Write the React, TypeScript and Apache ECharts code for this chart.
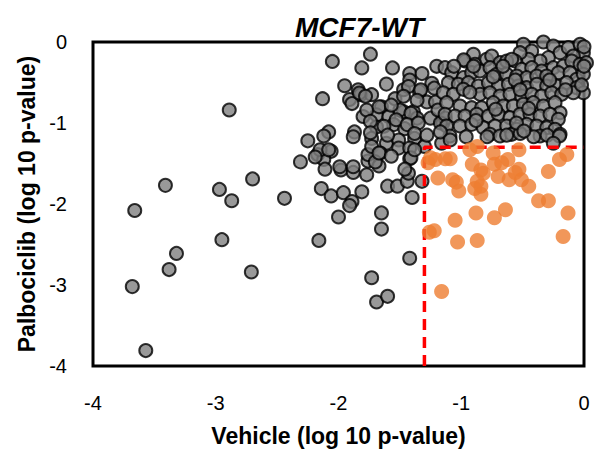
import React, { useEffect, useRef } from "react";
import * as echarts from "echarts";

const xTicks = [-4, -3, -2, -1, 0];
const yTicks = [0, -1, -2, -3, -4];
const threshold = -1.3;

// Gray points: [vehicle log10 p, palbociclib log10 p]
const grayPoints: number[][] = [
  // sparse left
  [-3.57, -3.81], [-3.68, -3.02], [-3.66, -2.08], [-3.38, -2.81], [-3.32, -2.61], [-3.41, -1.77],
  [-2.97, -1.82], [-2.95, -2.44], [-2.87, -1.96], [-2.89, -0.84], [-2.70, -1.69], [-2.71, -2.84],
  [-2.44, -1.93], [-2.31, -1.48], [-2.25, -1.22], [-2.16, -2.45], [-2.14, -1.81], [-2.06, -1.90],
  [-2.00, -2.16], [-1.96, -1.86], [-1.89, -1.97], [-1.91, -2.02], [-1.81, -1.85], [-2.05, -0.24],
  [-2.13, -0.70], [-2.08, -1.11], [-2.12, -1.16], [-2.06, -1.35], [-2.17, -1.39], [-2.12, -1.45],
  [-2.11, -1.57], [-1.98, -1.58], [-1.88, -1.61], [-1.77, -1.64], [-1.65, -2.11], [-1.65, -2.31],
  [-1.42, -2.67], [-1.73, -2.91], [-1.69, -3.21], [-1.60, -3.14], [-1.60, -1.78], [-1.52, -1.78],
  [-1.44, -1.72], [-1.43, -1.62], [-1.32, -1.72], [-1.40, -1.92], [-1.76, -1.47], [-1.76, -1.39],
  [-1.67, -1.53],
  // mid cluster
  [-1.74, -0.15], [-1.81, -0.32], [-1.56, -0.32], [-1.95, -0.54], [-1.61, -0.52], [-1.84, -0.59],
  [-1.82, -0.65], [-1.91, -0.71], [-1.89, -0.76], [-1.73, -0.65], [-1.65, -0.80], [-1.54, -0.70],
  [-1.47, -0.59], [-1.42, -0.39], [-1.32, -0.39], [-1.42, -0.47], [-1.20, -0.30], [-1.34, -0.61],
  [-1.24, -0.51], [-1.39, -0.86], [-1.47, -0.86], [-1.28, -0.74], [-1.21, -0.74], [-1.80, -0.92],
  [-1.69, -0.90], [-1.59, -0.92], [-1.69, -1.05], [-1.55, -1.02], [-1.46, -1.07], [-1.36, -0.94],
  [-1.25, -0.94], [-1.15, -1.00], [-1.87, -1.11], [-1.88, -1.17], [-1.73, -1.19], [-1.61, -1.25],
  [-1.73, -1.29], [-1.51, -1.21], [-1.51, -1.31], [-1.38, -1.19], [-1.42, -1.31], [-1.30, -1.29],
  [-2.15, -1.33], [-2.08, -1.33], [-2.19, -1.42], [-1.66, -1.37], [-1.70, -1.48], [-1.42, -1.44],
  [-1.99, -1.54], [-1.88, -1.54], [-1.41, -1.43], [-1.46, -1.57], [-1.38, -1.33], [-1.16, -1.25],
  [-1.43, -0.55], [-1.33, -0.59], [-1.22, -0.57], [-1.47, -0.67], [-1.36, -0.72],
  [-1.50, -0.84], [-1.41, -0.88], [-1.19, -0.84], [-1.53, -0.96],
  [-1.44, -1.02], [-1.35, -1.00], [-1.77, -0.84], [-1.67, -0.80], [-1.57, -0.78], [-1.74, -0.98],
  [-1.63, -1.04], [-1.74, -1.12], [-1.60, -1.15], [-1.67, -1.37], [-1.57, -1.41], [-1.83, -0.63],
  [-1.78, -0.67], [-1.13, -0.94], [-1.17, -1.00],
  // dense upper right
  [-0.494, -0.029], [-0.426, -0.111], [-0.331, 0.0], [-0.250, -0.049], [-0.195, -0.132],
  [-0.128, -0.070], [-0.032, -0.029], [-0.005, -0.132], [-0.087, -0.173], [-0.290, -0.193],
  [-0.358, -0.235], [-0.453, -0.214], [-0.521, -0.132], [-0.562, -0.235],
  [-0.969, -0.235], [-0.901, -0.152], [-0.888, -0.276], [-0.793, -0.214], [-0.752, -0.173],
  [-0.684, -0.255], [-0.630, -0.235], [-0.589, -0.214], [-0.508, -0.338], [-0.426, -0.317],
  [-0.345, -0.358], [-0.250, -0.317], [-0.168, -0.296], [-0.100, -0.235], [-0.032, -0.276],
  [0.02, -0.255],
  [-1.132, -0.317], [-1.078, -0.379], [-0.983, -0.440], [-0.915, -0.379], [-0.847, -0.358],
  [-0.766, -0.317], [-0.711, -0.399], [-0.630, -0.399], [-0.548, -0.420], [-0.467, -0.440],
  [-0.385, -0.420], [-0.304, -0.420], [-0.209, -0.379], [-0.114, -0.379], [-0.060, -0.461],
  [-0.005, -0.399],
  [-1.105, -0.502], [-1.024, -0.523], [-0.942, -0.502], [-0.861, -0.543], [-0.779, -0.502],
  [-0.698, -0.543], [-0.616, -0.523], [-0.535, -0.543], [-0.467, -0.564], [-0.385, -0.523],
  [-0.304, -0.543], [-0.223, -0.543], [-0.141, -0.502], [-0.060, -0.564], [-0.005, -0.626],
  [-1.146, -0.626], [-1.064, -0.646], [-0.983, -0.584], [-0.847, -0.646], [-0.766, -0.626],
  [-0.684, -0.667], [-0.603, -0.646], [-0.508, -0.667], [-0.426, -0.646], [-0.345, -0.667],
  [-0.263, -0.626], [-0.182, -0.646], [-0.087, -0.626],
  [-1.119, -0.749], [-1.010, -0.790], [-0.915, -0.811], [-0.834, -0.811], [-0.739, -0.749],
  [-0.657, -0.790], [-0.576, -0.790], [-0.494, -0.770], [-0.413, -0.749], [-0.331, -0.790],
  [-0.236, -0.749], [-0.195, -0.873],
  [-1.132, -0.893], [-1.051, -0.914], [-0.969, -0.914], [-0.874, -0.893], [-0.779, -0.914],
  [-0.698, -0.893], [-0.603, -0.934], [-0.521, -0.893], [-0.440, -0.893], [-0.358, -0.914],
  [-0.277, -0.893], [-0.209, -0.955],
  [-1.119, -1.037], [-1.010, -1.037], [-0.915, -1.017], [-0.820, -1.058], [-0.725, -1.037],
  [-0.630, -1.037], [-0.548, -1.078], [-0.467, -1.017], [-0.385, -1.037], [-0.304, -1.058],
  [-0.236, -1.078],
  [-1.092, -1.161], [-0.766, -1.140], [-0.684, -1.161], [-0.589, -1.140], [-0.358, -1.161],
  [-0.195, -1.140],
  [-1.38, -1.13], [-1.28, -1.15], [-1.17, -1.11], [-1.09, -1.21], [-0.96, -1.17], [-0.79, -1.17],
  [-0.63, -1.15], [-0.52, -1.13], [-0.41, -1.17], [-0.30, -1.15], [-0.20, -1.16], [-0.25, -1.25],
  [-0.98, -0.22], [-0.90, -0.30], [-0.66, -0.30], [-0.74, -0.43], [-0.56, -0.47], [-0.28, -0.47],
  [-0.93, -0.62], [-0.52, -0.59], [-0.15, -0.59], [-0.72, -0.83], [-0.45, -0.82], [-0.88, -0.97],
  [-0.55, -1.00], [-0.49, -1.10], [0.0, -0.06], [0.0, -0.30], [-0.02, -0.53], [-1.06, -0.30],
];

const orangePoints: number[][] = [
  [-1.27, -1.49], [-1.21, -1.45], [-1.13, -1.44], [-1.09, -1.44], [-1.19, -1.68], [-1.07, -1.70],
  [-1.02, -1.84], [-1.26, -2.35], [-1.22, -2.33], [-1.05, -2.20], [-1.03, -2.47], [-1.16, -3.08],
  [-0.91, -1.51], [-0.93, -1.33], [-0.87, -1.29], [-0.84, -1.58], [-0.87, -1.72], [-0.84, -1.78],
  [-0.84, -1.88], [-0.88, -2.11], [-0.87, -2.45], [-0.74, -1.37], [-0.73, -1.51], [-0.67, -1.49],
  [-0.70, -1.66], [-0.62, -1.45], [-0.61, -1.70], [-0.73, -2.17], [-0.64, -2.07], [-0.53, -1.33],
  [-0.53, -1.57], [-0.51, -1.70], [-0.45, -1.78], [-0.37, -1.96], [-0.29, -1.96], [-0.29, -1.60],
  [-0.20, -1.45], [-0.14, -1.39], [-0.13, -2.11], [-0.17, -2.40], [-1.25, -1.43], [-1.04, -1.73],
  [-0.89, -1.81], [-0.82, -1.62], [-0.56, -1.61],
];

const cutoffLine: number[][] = [
  [threshold, -4],
  [threshold, threshold],
  [0, threshold],
];

const FONT = "'Liberation Sans', Arial, sans-serif";

export default function App() {
  const ref = useRef<HTMLDivElement>(null);
  useEffect(() => {
    document.body.style.margin = "0";
    const chart = echarts.init(ref.current!, null, { renderer: "svg" });
    chart.setOption({
      animation: false,
      backgroundColor: "#fff",
      title: {
        text: "MCF7-WT",
        left: 290,
        top: 8,
        textStyle: {
          fontFamily: FONT,
          fontSize: 28,
          fontWeight: "bold",
          fontStyle: "italic",
          color: "#000",
        },
      },
      grid: {
        left: 93,
        top: 42,
        width: 491,
        height: 324,
        show: true,
        borderColor: "#000",
        borderWidth: 3,
        backgroundColor: "transparent",
      },
      xAxis: {
        type: "value",
        min: xTicks[0],
        max: xTicks[xTicks.length - 1],
        interval: 1,
        axisLine: { show: false },
        axisTick: { show: false },
        splitLine: { show: false },
        axisLabel: { color: "#000", fontSize: 20, fontFamily: FONT, margin: 27 },
        name: "Vehicle (log 10 p-value)",
        nameLocation: "middle",
        nameGap: 58,
        nameTextStyle: { color: "#000", fontSize: 23, fontWeight: "bold", fontFamily: FONT },
      },
      yAxis: {
        type: "value",
        min: yTicks[yTicks.length - 1],
        max: yTicks[0],
        interval: 1,
        axisLine: { show: false },
        axisTick: { show: false },
        splitLine: { show: false },
        axisLabel: { color: "#000", fontSize: 20, fontFamily: FONT, margin: 26 },
        name: "Palbociclib (log 10 p-value)",
        nameLocation: "middle",
        nameGap: 53,
        nameTextStyle: { color: "#000", fontSize: 23, fontWeight: "bold", fontFamily: FONT },
      },
      series: [
        {
          type: "scatter",
          data: grayPoints,
          clip: false,
          symbolSize: 13,
          itemStyle: { color: "#7f7f7f", borderColor: "#000", borderWidth: 2 },
          z: 2,
        },
        {
          type: "line",
          data: cutoffLine,
          symbol: "none",
          clip: false,
          lineStyle: { color: "#ff0000", width: 3.5, type: [11, 7] },
          z: 3,
        },
        {
          type: "scatter",
          data: orangePoints,
          clip: false,
          symbolSize: 15,
          itemStyle: { color: "#ed7d31" },
          z: 4,
        },
      ],
    });
    return () => chart.dispose();
  }, []);
  return <div ref={ref} style={{ width: 594, height: 458 }} />;
}
